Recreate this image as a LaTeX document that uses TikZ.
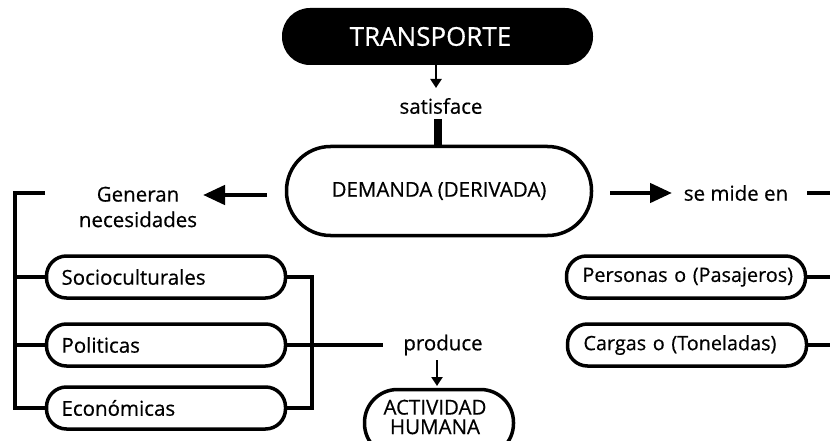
\documentclass[tikz,border=0pt]{standalone}
\usepackage{fontspec}
\setmainfont{Open Sans}
\newfontfamily\mfont{Open Sans}[FakeBold=0.5]
\usetikzlibrary{arrows.meta}
\begin{document}
\begin{tikzpicture}[x=1pt,y=-1pt,
  pill/.style={draw, line width=3.5pt, rectangle, rounded corners=20pt, minimum width=239pt, minimum height=42pt, text width=209pt, inner xsep=15pt, align=left, font=\mfont\fontsize{20.5}{24}\selectfont},
  rpill/.style={pill, text width=207pt, inner xsep=16pt, font=\mfont\fontsize{19.8}{24}\selectfont},
  lbl/.style={font=\mfont\fontsize{20.5}{25.5}\selectfont, inner sep=0pt},
  link/.style={line width=3.5pt},
  bigarrow/.style={line width=4.5pt, -{Triangle[length=22pt,width=19pt]}},
  smallarrow/.style={line width=2.2pt, -{Triangle[length=9pt,width=11pt]}},
]
\useasboundingbox (0,0) rectangle (830,441);
\clip (0,0) rectangle (830,441);

% top
\node[fill=black, rounded corners=28pt, minimum width=311pt, minimum height=57pt, inner sep=0pt, text=white, font=\mfont\fontsize{26}{30}\selectfont] (transporte) at (437.5,36.5) {\hspace*{-14pt}TRANSPORTE};
\node[lbl] (satisface) at (441,106) {satisface};
\node[draw, line width=3.5pt, rounded corners=44pt, minimum width=305pt, minimum height=89pt, inner sep=0pt, font=\mfont\fontsize{20.5}{24}\selectfont] (demanda) at (439,191) {DEMANDA (DERIVADA)};

\coordinate (t1) at (436,65);
\coordinate (t2) at (436,88);
\draw[smallarrow] (t1) -- (t2);
\coordinate (s1) at (438,119);
\draw[line width=8pt] (s1) -- (s1 |- demanda.north);

% left side
\node[lbl, align=center] (generan) at (138,207) {Generan\\necesidades};
\coordinate (la1) at (267,195);
\coordinate (la2) at (203,195);
\draw[bigarrow] (la1) -- (la2);

\node[pill] (socio) at (166,277) {Socioculturales};
\node[pill] (poli) at (166,345) {Politicas};
\node[pill] (econ) at (166,408) {Económicas};

\coordinate (lb0) at (45,193);
\coordinate (lbt) at (15,193);
\draw[link] (lb0) -- (lbt) -- (lbt |- econ.west) -- (econ.west);
\draw[link] (lbt |- socio.west) -- (socio.west);
\draw[link] (lbt |- poli.west) -- (poli.west);

\coordinate (rb) at (312,277);
\draw[link] (socio.east) -- (rb) -- (rb |- econ.east) -- (econ.east);

\node[lbl] (produce) at (443,345) {produce};
\coordinate (pe) at (383,345);
\draw[link] (poli.east) -- (pe);

\node[draw, line width=3.5pt, rounded corners=33pt, minimum width=149pt, minimum height=67pt, inner sep=0pt] (actbox) at (439,423) {};
\node[font=\mfont\fontsize{20.5}{19.5}\selectfont, align=center, inner sep=0pt] (acttext) at (435,417) {ACTIVIDAD\\HUMANA};
\coordinate (p1) at (437,360);
\coordinate (p2) at (437,386);
\draw[smallarrow] (p1) -- (p2);

% right side
\coordinate (ra1) at (610,193);
\coordinate (ra2) at (672,193);
\draw[bigarrow] (ra1) -- (ra2);
\node[lbl] (semide) at (736,193) {se mide en};
\coordinate (sm1) at (807,193);
\coordinate (sm2) at (830,193);
\draw[link] (sm1) -- (sm2);

\node[rpill] (personas) at (686,277) {\mbox{Personas o (Pasajeros)}};
\node[rpill] (cargas) at (687,345) {\mbox{Cargas o (Toneladas)}};
\coordinate (pr) at (830,277);
\coordinate (cr) at (830,345);
\draw[link] (personas.east) -- (pr);
\draw[link] (cargas.east) -- (cr);
\end{tikzpicture}
\end{document}
